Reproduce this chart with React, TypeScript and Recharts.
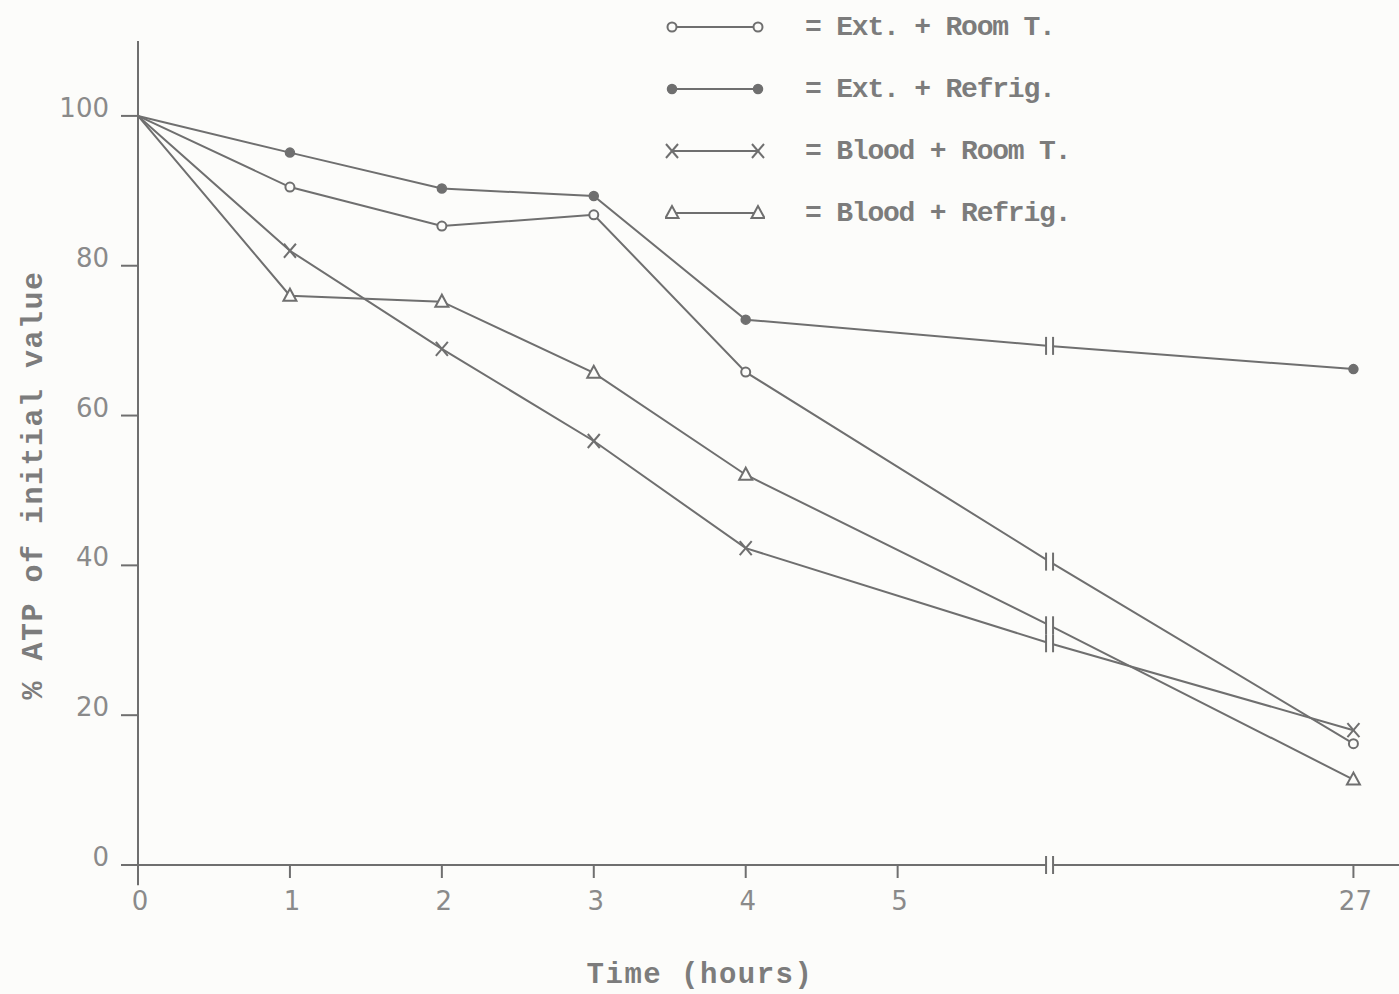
import React from "react";
import {
  LineChart,
  Line,
  XAxis,
  YAxis,
  Legend,
  ReferenceLine,
  ReferenceDot,
  Label,
} from "recharts";

// x positions on the (broken) time axis; 6 is the break, 8 is 27 h
const timePos = [0, 1, 2, 3, 4, 6, 8];
const breakPos = 6;
const xTicks = [0, 1, 2, 3, 4, 5, 8];
const xTickLabels = ["0", "1", "2", "3", "4", "5", "27"];
const yTicks = [0, 20, 40, 60, 80, 100];

const extRoom = [100, 90.5, 85.3, 86.8, 65.8, 40.5, 16.2];
const extRefrig = [100, 95.1, 90.3, 89.3, 72.8, 69.3, 66.2];
const bloodRoom = [100, 82, 68.9, 56.6, 42.3, 29.6, 18];
const bloodRefrig = [100, 76, 75.2, 65.7, 52.1, 32, 11.4];

const seriesNames = [
  "= Ext. + Room T.",
  "= Ext. + Refrig.",
  "= Blood + Room T.",
  "= Blood + Refrig.",
];
const seriesKeys = ["extRoom", "extRefrig", "bloodRoom", "bloodRefrig"];
const seriesKinds = ["open", "filled", "cross", "triangle"];

const chartData = timePos.map((t, i) => ({
  t,
  extRoom: extRoom[i],
  extRefrig: extRefrig[i],
  bloodRoom: bloodRoom[i],
  bloodRefrig: bloodRefrig[i],
}));

const INK = "#6f6f6f";
const TEXT = "#7c7c7c";
const PAPER = "#fcfcfa";
const MONO = "'Liberation Mono', 'DejaVu Sans Mono', monospace";

function Marker({ kind, cx, cy }: { kind: string; cx: number; cy: number }) {
  if (kind === "open")
    return <circle cx={cx} cy={cy} r={4.5} fill={PAPER} stroke={INK} strokeWidth={2} />;
  if (kind === "filled")
    return <circle cx={cx} cy={cy} r={4.5} fill={INK} stroke={INK} strokeWidth={1.5} />;
  if (kind === "cross")
    return (
      <g stroke={INK} strokeWidth={2}>
        <line x1={cx - 6} y1={cy - 7} x2={cx + 6} y2={cy + 7} />
        <line x1={cx - 6} y1={cy + 7} x2={cx + 6} y2={cy - 7} />
      </g>
    );
  return (
    <polygon
      points={`${cx},${cy - 7} ${cx - 6.5},${cy + 5} ${cx + 6.5},${cy + 5}`}
      fill={PAPER}
      stroke={INK}
      strokeWidth={2}
    />
  );
}

function BreakMark({ cx, cy }: { cx: number; cy: number }) {
  return (
    <g>
      <rect x={cx - 3} y={cy - 6} width={6} height={12} fill={PAPER} />
      <line x1={cx - 3.5} y1={cy - 9} x2={cx - 3.5} y2={cy + 9} stroke={INK} strokeWidth={2} />
      <line x1={cx + 3.5} y1={cy - 9} x2={cx + 3.5} y2={cy + 9} stroke={INK} strokeWidth={2} />
    </g>
  );
}

const renderDot = (kind: string) => (props: any) => {
  const { cx, cy, index, payload } = props;
  const k = `${kind}-${index}`;
  if (index === 0 || cx == null || cy == null) return <g key={k} />;
  if (payload.t === breakPos)
    return (
      <g key={k}>
        <BreakMark cx={cx} cy={cy} />
      </g>
    );
  return (
    <g key={k}>
      <Marker kind={kind} cx={cx} cy={cy} />
    </g>
  );
};

function YTick(props: any) {
  const { x, y, payload } = props;
  return (
    <text
      x={x}
      y={y - 8}
      textAnchor="end"
      dominantBaseline="central"
      fontSize={26}
      fontFamily="'DejaVu Sans', sans-serif"
      fill="#8a8a8a"
    >
      {payload.value}
    </text>
  );
}

function XTick(props: any) {
  const { x, y, payload } = props;
  const i = xTicks.indexOf(payload.value);
  return (
    <text
      x={x + 2}
      y={y}
      dy={18}
      textAnchor="middle"
      fontSize={26}
      fontFamily="'DejaVu Sans', sans-serif"
      fill="#8a8a8a"
    >
      {xTickLabels[i]}
    </text>
  );
}

function LegendBox() {
  return (
    <div>
      {seriesNames.map((name, i) => (
        <div key={name} style={{ display: "flex", alignItems: "center", height: 62 }}>
          <svg width={100} height={30}>
            <line x1={7} y1={15} x2={93} y2={15} stroke={INK} strokeWidth={2} />
            <Marker kind={seriesKinds[i]} cx={7} cy={15} />
            <Marker kind={seriesKinds[i]} cx={93} cy={15} />
          </svg>
          <span
            style={{
              marginLeft: 40,
              fontFamily: MONO,
              fontWeight: "bold",
              fontSize: 28,
              letterSpacing: -1.2,
              color: TEXT,
              whiteSpace: "pre",
            }}
          >
            {name}
          </span>
        </div>
      ))}
    </div>
  );
}

export default function App() {
  return (
    <div style={{ width: 1399, height: 994, background: PAPER }}>
      <style>{`body{margin:0;background:${PAPER}}`}</style>
      <LineChart
        width={1399}
        height={994}
        data={chartData}
        margin={{ top: 41, right: 0, left: 0, bottom: 0 }}
      >
        <XAxis
          dataKey="t"
          type="number"
          domain={[0, 8.3]}
          ticks={xTicks}
          interval={0}
          height={129}
          tickSize={13}
          tickMargin={14}
          tick={<XTick />}
          axisLine={{ stroke: INK, strokeWidth: 2 }}
          tickLine={{ stroke: INK, strokeWidth: 2 }}
        >
          <Label
            content={({ viewBox }: any) => (
              <text
                x={viewBox.x + 562}
                y={viewBox.y + 118}
                textAnchor="middle"
                fontFamily={MONO}
                fontWeight="bold"
                fontSize={29}
                letterSpacing={1.5}
                fill={TEXT}
              >
                Time (hours)
              </text>
            )}
          />
        </XAxis>
        <YAxis
          type="number"
          domain={[0, 110]}
          ticks={yTicks}
          width={138}
          tickSize={17}
          tickMargin={12}
          tick={<YTick />}
          axisLine={{ stroke: INK, strokeWidth: 2 }}
          tickLine={{ stroke: INK, strokeWidth: 2 }}
        >
          <Label
            content={({ viewBox }: any) => {
              const cx = viewBox.x + 34;
              const cy = viewBox.y + viewBox.height / 2 + 32;
              return (
                <text
                  x={cx}
                  y={cy}
                  transform={`rotate(-90, ${cx}, ${cy})`}
                  textAnchor="middle"
                  dominantBaseline="central"
                  fontFamily={MONO}
                  fontWeight="bold"
                  fontSize={30}
                  letterSpacing={1.5}
                  fill={TEXT}
                >
                  % ATP of initial value
                </text>
              );
            }}
          />
        </YAxis>
        <ReferenceLine
          segment={[{ x: 0, y: 0 }, { x: 0, y: -2.7 }]}
          stroke={INK}
          strokeWidth={2}
          ifOverflow="visible"
        />
        <ReferenceLine
          segment={[{ x: -0.09, y: 0 }, { x: 0, y: 0 }]}
          stroke={INK}
          strokeWidth={2}
          ifOverflow="visible"
        />
        <Legend
          layout="horizontal"
          verticalAlign="middle"
          align="center"
          content={() => <LegendBox />}
          wrapperStyle={{ top: -4, left: 665, width: 600 }}
        />
        {seriesKeys.map((key, i) => (
          <Line
            key={key}
            type="linear"
            dataKey={key}
            name={seriesNames[i]}
            stroke={INK}
            strokeWidth={2}
            dot={renderDot(seriesKinds[i])}
            activeDot={false}
            isAnimationActive={false}
          />
        ))}
        <ReferenceDot
          x={breakPos}
          y={0}
          ifOverflow="visible"
          shape={(p: any) => <BreakMark cx={p.cx} cy={p.cy} />}
        />
      </LineChart>
    </div>
  );
}
